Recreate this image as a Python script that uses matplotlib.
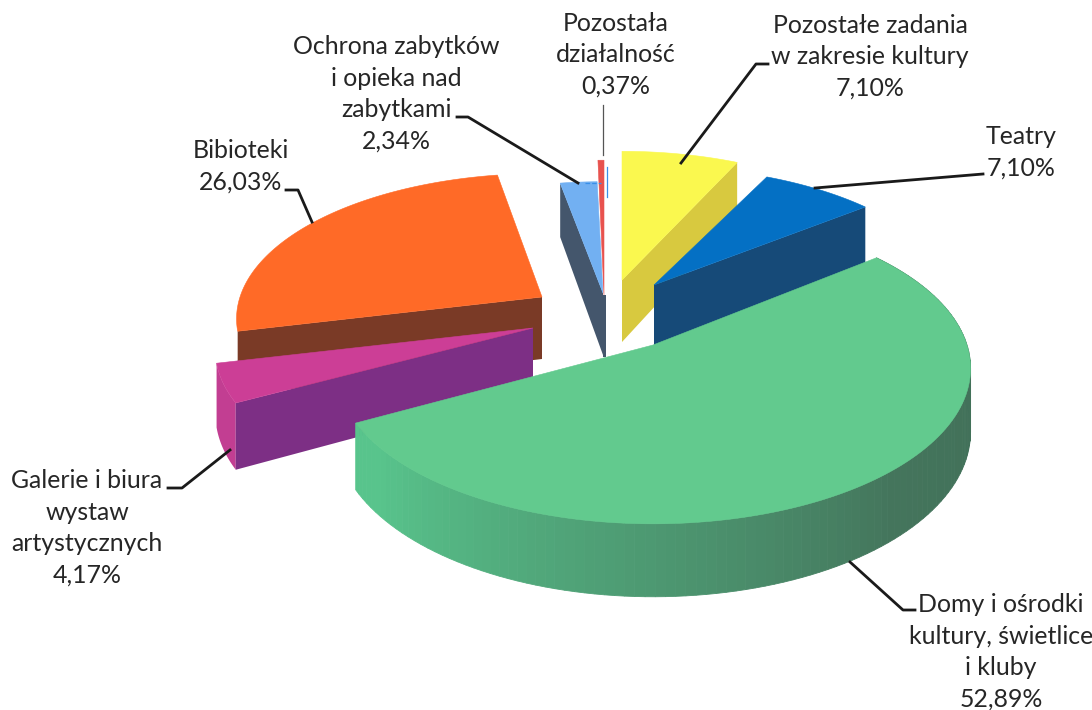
import numpy as np
import matplotlib
matplotlib.use('Agg')
import matplotlib.pyplot as plt

plt.rcParams['font.family'] = ['Lato', 'DejaVu Sans']

nazwy = ['Pozostałe zadania\nw zakresie kultury', 'Teatry', 'Domy i ośrodki\nkultury, świetlice\ni kluby',
         'Galerie i biura\nwystaw\nartystycznych', 'Bibioteki', 'Ochrona zabytków\ni opieka nad\nzabytkami',
         'Pozostała\ndziałalność']
wartosci = [7.10, 7.10, 52.89, 4.17, 26.03, 2.34, 0.37]
etykiety = ['7,10%', '7,10%', '52,89%', '4,17%', '26,03%', '2,34%', '0,37%']

# wyglad kawalkow: wierzcholek w pikselach, promienie, kolory
wierzcholki = [(622, 280), (654, 285), (653, 345), (533, 328), (542, 297), (603, 293), (604, 295)]
promienie = [(303, 148), (297, 136), (314, 152), (314, 146), (302, 142), (290, 128), (300, 155)]
kolor_gora = ['#FAF84F', '#0470C4', '#62CA8E', '#CC3E96', '#FF6A27', '#72B0F2', '#E8524E']
kolor_bok = ['#D8C93F', '#164A78', '#4F8F6E', '#7D2F85', '#7A3A26', '#44566C', '#B03A3A']
kolejnosc = [4, 3, 0, 5, 6, 1, 2]
K = 0.15
H = 62

pozycje_tekstu = [(870, 57), (1021, 152), (1001, 652), (87, 528), (241, 166), (396, 94), (616, 55)]
linie = [[(681, 163), (756, 64), (768, 64)],
         [(815, 188), (983, 174)],
         [(850, 562), (903, 610), (915, 610)],
         [(230, 450), (182, 488), (168, 488)],
         [(312, 222), (298, 190), (286, 190)],
         [(578, 183), (468, 117), (457, 117)],
         [(603, 155), (603, 105)]]


def rzut(kat, wierzcholek, promien, dol=0):
    u, v = np.sin(kat), np.cos(kat)
    s = 1 / (1 + K * v)
    x = wierzcholek[0] + promien[0] * u * s
    y = wierzcholek[1] - promien[1] * v * s + dol * s
    return x, y


def mieszaj(a, b, t):
    a = np.array(matplotlib.colors.to_rgb(a))
    b = np.array(matplotlib.colors.to_rgb(b))
    return tuple(a + (b - a) * t)


fig = plt.figure(figsize=(10.92, 7.10), dpi=100)
ax = fig.add_axes([0, 0, 1, 1])
ax.set_xlim(0, 1092)
ax.set_ylim(710, 0)
ax.axis('off')

granice = np.radians(np.cumsum([0] + wartosci) * 3.6)

for i in kolejnosc:
    a0, a1 = granice[i], granice[i + 1]
    w = wierzcholki[i]
    p = promienie[i]
    katy = np.linspace(a0, a1, 121)
    xs, ys = rzut(katy, w, p)
    xd, yd = rzut(katy, w, p, H)

    # sciana na luku, tylko od strony widza
    if i == 2:
        # zielony bok: ciemny po prawej, jasny po lewej
        for j in range(len(katy) - 1):
            t = (katy[j] - a0) / (a1 - a0)
            if t < 0.45:
                kol = mieszaj('#3F6B56', '#44755C', t / 0.45)
            else:
                kol = mieszaj('#44755C', '#58C48C', min(1, (t - 0.45) / 0.5))
            ax.fill([xs[j], xs[j + 1], xd[j + 1], xd[j]], [ys[j], ys[j + 1], yd[j + 1], yd[j]],
                    color=kol, lw=0.6)
    elif i == 3:
        ax.fill(list(xs) + list(xd[::-1]), list(ys) + list(yd[::-1]), color='#C23E92', lw=0)

    x0, y0 = w
    xw, yw = x0, y0 + H
    # widoczna sciana promieniowa
    if i in (0, 1):
        ax.fill([x0, xs[-1], xd[-1], xw], [y0, ys[-1], yd[-1], yw], color=kolor_bok[i], lw=0)
    elif i in (3, 4, 5):
        ax.fill([x0, xs[0], xd[0], xw], [y0, ys[0], yd[0], yw], color=kolor_bok[i], lw=0)
    elif i == 6:
        ax.fill([x0 - 1, x0 + 2, x0 + 2, x0 - 1], [y0, y0, yw, yw], color='#44566C', lw=0)

    ax.fill([x0] + list(xs), [y0] + list(ys), color=kolor_gora[i], lw=0.4)

for i, linia in enumerate(linie):
    xl = [q[0] for q in linia]
    yl = [q[1] for q in linia]
    if i == 6:
        ax.plot(xl, yl, color='#555555', lw=0.9)
    else:
        ax.plot(xl, yl, color='#1A1A1A', lw=2)

# niebieskie resztki przy cienkim kawalku
ax.plot([607, 607], [167, 197], color='#3A8FE8', lw=0.9)
ax.plot([585, 601], [183, 183], color='#3A8FE8', lw=0.9, ls='--')

for nazwa, etykieta, poz in zip(nazwy, etykiety, pozycje_tekstu):
    ax.text(poz[0], poz[1], nazwa + '\n' + etykieta, ha='center', va='center', ma='center',
            fontsize=17.9, color='#262626', linespacing=1.45)

fig.savefig('out.png', dpi=100)
